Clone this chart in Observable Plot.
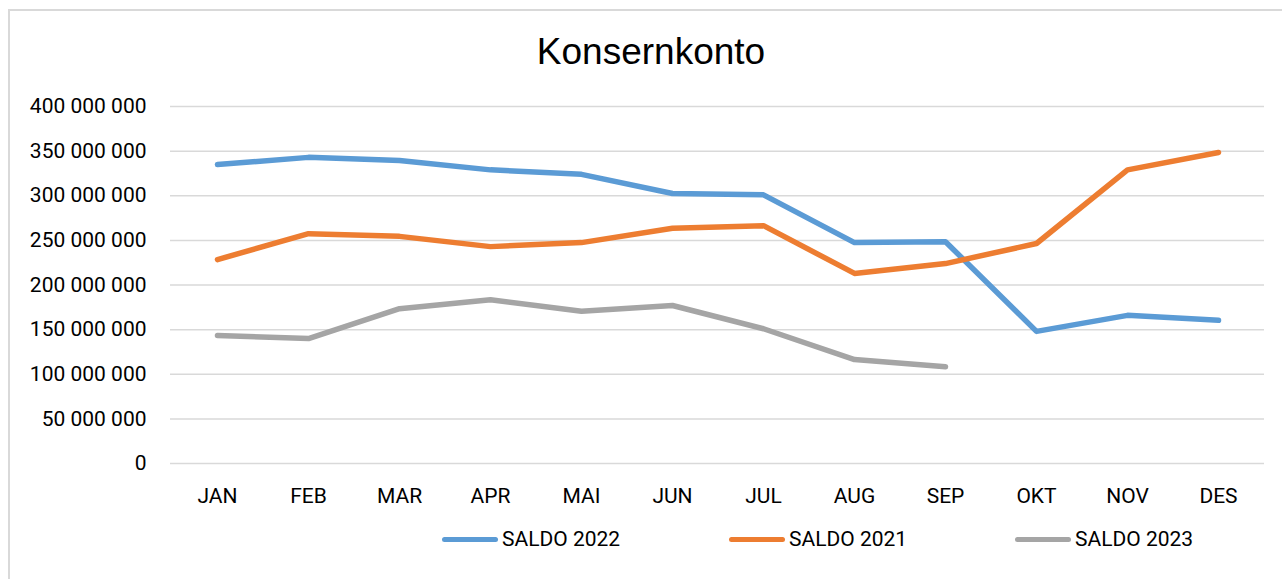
<!DOCTYPE html>
<html>
<head>
<meta charset="utf-8">
<script src="https://cdn.jsdelivr.net/npm/d3@7"></script>
<script src="https://cdn.jsdelivr.net/npm/@observablehq/plot@0.6"></script>
<style>
  html, body { margin: 0; padding: 0; background: #fff; overflow: hidden; }
  body { width: 1282px; height: 579px; position: relative; font-family: Roboto, "Liberation Sans", sans-serif; }
  #frame { position: absolute; left: 8px; top: 9px; width: 1400px; height: 700px; border: 2px solid #d9d9d9; box-sizing: border-box; }
  #title { position: absolute; left: 0; width: 1302px; top: 28px; text-align: center; font-family: "Liberation Sans", Arial, sans-serif; font-size: 37px; color: #000; line-height: 48px; }
  #chart { position: absolute; left: 0; top: 0; }
  .leg { position: absolute; top: 527px; display: flex; align-items: center; font-size: 21px; color: #000; line-height: 24px; }
  .sw { width: 56px; height: 5px; border-radius: 3px; margin-right: 4px; }
</style>
</head>
<body>
<div id="frame"></div>
<div id="chart"></div>
<div id="title">Konsernkonto</div>
<div id="legend"></div>
<script>
const months = ["JAN","FEB","MAR","APR","MAI","JUN","JUL","AUG","SEP","OKT","NOV","DES"];
const saldo2022 = [335e6, 343e6, 339.5e6, 329e6, 324e6, 302.5e6, 301e6, 247.5e6, 248.5e6, 148e6, 166e6, 160.5e6];
const saldo2021 = [228.5e6, 257.5e6, 254.5e6, 243e6, 247.5e6, 263.5e6, 266.5e6, 213e6, 224e6, 246.5e6, 329e6, 348.5e6];
const saldo2023 = [143.5e6, 140e6, 173.5e6, 183.5e6, 170.5e6, 177e6, 151e6, 116.5e6, 108.5e6];
const yTicks = [0, 50e6, 100e6, 150e6, 200e6, 250e6, 300e6, 350e6, 400e6];
const seriesNames = ["SALDO 2022", "SALDO 2021", "SALDO 2023"];
const seriesColors = ["#5B9BD5", "#ED7D31", "#A5A5A5"];
const seriesValues = [saldo2022, saldo2021, saldo2023];

const rows = [];
seriesValues.forEach((vals, i) => vals.forEach((v, j) => rows.push({series: seriesNames[i], month: months[j], value: v})));
const drawOrder = ["SALDO 2022", "SALDO 2021", "SALDO 2023"];

const fmt = v => d3.format(",")(v).replace(/,/g, " ");

const plot = Plot.plot({
  width: 1282,
  height: 579,
  marginLeft: 170,
  marginRight: 18,
  marginTop: 106,
  marginBottom: 116,
  style: {background: "transparent", fontFamily: "Roboto, sans-serif", fontSize: "21px", color: "#000"},
  x: {type: "point", domain: months, padding: 0.5, label: null},
  y: {domain: [0, 400e6], label: null},
  color: {domain: seriesNames, range: seriesColors},
  marks: [
    Plot.ruleY(yTicks, {stroke: "#d9d9d9", strokeWidth: 1.5, strokeOpacity: 1}),
    Plot.axisY({ticks: yTicks, tickFormat: fmt, tickSize: 0, tickPadding: 24, label: null, fontSize: 21}),
    Plot.axisX({tickSize: 0, tickPadding: 25, label: null, fontSize: 21}),
    ...drawOrder.map(name => Plot.line(rows.filter(r => r.series === name), {
      x: "month", y: "value", stroke: seriesColors[seriesNames.indexOf(name)],
      strokeWidth: 5.5, strokeLinecap: "round", strokeLinejoin: "round"
    }))
  ]
});
document.getElementById("chart").appendChild(plot);

const legendLefts = [442, 729, 1015];
const legend = document.getElementById("legend");
seriesNames.forEach((name, i) => {
  const item = document.createElement("div");
  item.className = "leg";
  item.style.left = legendLefts[i] + "px";
  const sw = document.createElement("div");
  sw.className = "sw";
  sw.style.background = seriesColors[i];
  const t = document.createElement("span");
  t.textContent = name;
  item.appendChild(sw);
  item.appendChild(t);
  legend.appendChild(item);
});
</script>
</body>
</html>
